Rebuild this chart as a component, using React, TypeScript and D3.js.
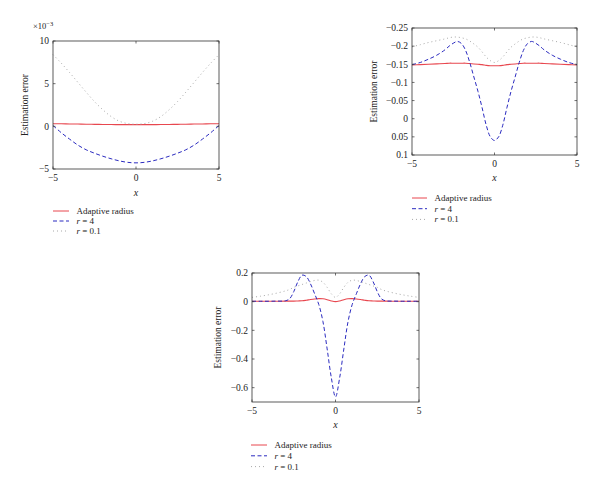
import React from "react";
import * as d3 from "d3";

// ---------- DATA ----------
const seriesNames = ["Adaptive radius", "r = 4", "r = 0.1"];

// Panel 1 (values ×10^-3)
const p1X = [-5, -4.5, -4, -3.5, -3, -2.5, -2, -1.5, -1, -0.5, 0, 0.5, 1, 1.5, 2, 2.5, 3, 3.5, 4, 4.5, 5];
const p1Adaptive = [0.3, 0.3, 0.28, 0.27, 0.25, 0.23, 0.22, 0.21, 0.2, 0.2, 0.2, 0.2, 0.2, 0.21, 0.22, 0.23, 0.25, 0.27, 0.28, 0.3, 0.3];
const p1R4 = [0.1, -0.75, -1.5, -2.2, -2.75, -3.15, -3.5, -3.8, -4.05, -4.22, -4.28, -4.22, -4.05, -3.8, -3.5, -3.15, -2.75, -2.2, -1.5, -0.75, 0.1];
const p1R01 = [8.4, 7.4, 6.3, 5.15, 4.0, 2.9, 1.95, 1.15, 0.6, 0.32, 0.25, 0.32, 0.6, 1.15, 1.95, 2.9, 4.0, 5.15, 6.3, 7.4, 8.4];
const p1YTicks = [-5, 0, 5, 10];

// Panel 2 (reversed y axis)
const p2X = [-5, -4.5, -4, -3.5, -3, -2.75, -2.5, -2.25, -2, -1.75, -1.5, -1.25, -1, -0.75, -0.5, -0.25, 0, 0.25, 0.5, 0.75, 1, 1.25, 1.5, 1.75, 2, 2.25, 2.5, 2.75, 3, 3.5, 4, 4.5, 5];
const p2Adaptive = [-0.148, -0.149, -0.15, -0.151, -0.152, -0.153, -0.153, -0.153, -0.153, -0.153, -0.152, -0.151, -0.15, -0.149, -0.147, -0.146, -0.146, -0.146, -0.147, -0.149, -0.15, -0.151, -0.152, -0.153, -0.153, -0.153, -0.153, -0.153, -0.152, -0.151, -0.15, -0.149, -0.148];
const p2R4 = [-0.149, -0.155, -0.164, -0.175, -0.19, -0.2, -0.208, -0.213, -0.207, -0.188, -0.155, -0.115, -0.075, -0.03, 0.018, 0.05, 0.06, 0.05, 0.018, -0.03, -0.075, -0.115, -0.155, -0.188, -0.207, -0.213, -0.208, -0.2, -0.19, -0.175, -0.164, -0.155, -0.149];
const p2R01 = [-0.198, -0.204, -0.21, -0.215, -0.22, -0.223, -0.225, -0.225, -0.223, -0.22, -0.214, -0.206, -0.197, -0.184, -0.17, -0.16, -0.155, -0.16, -0.17, -0.184, -0.197, -0.206, -0.214, -0.22, -0.223, -0.225, -0.225, -0.223, -0.22, -0.215, -0.21, -0.204, -0.198];
const p2YTicks = [-0.25, -0.2, -0.15, -0.1, -0.05, 0, 0.05, 0.1];

// Panel 3
const p3X = p2X;
const p3Adaptive = [0.003, 0.003, 0.003, 0.003, 0.004, 0.004, 0.004, 0.005, 0.006, 0.01, 0.015, 0.019, 0.021, 0.02, 0.014, 0.005, 0.0, 0.005, 0.014, 0.02, 0.021, 0.019, 0.015, 0.01, 0.006, 0.005, 0.004, 0.004, 0.004, 0.003, 0.003, 0.003, 0.003];
const p3R4 = [0.003, 0.003, 0.003, 0.004, 0.006, 0.02, 0.07, 0.14, 0.185, 0.175, 0.125, 0.055, -0.02, -0.14, -0.33, -0.53, -0.665, -0.53, -0.33, -0.14, -0.02, 0.055, 0.125, 0.175, 0.185, 0.14, 0.07, 0.02, 0.006, 0.004, 0.003, 0.003, 0.003];
const p3R01 = [0.03, 0.038, 0.048, 0.06, 0.075, 0.085, 0.1, 0.11, 0.12, 0.13, 0.14, 0.148, 0.15, 0.135, 0.1, 0.055, 0.03, 0.055, 0.1, 0.135, 0.15, 0.148, 0.14, 0.13, 0.12, 0.11, 0.1, 0.085, 0.075, 0.06, 0.048, 0.038, 0.03];
const p3YTicks = [-0.6, -0.4, -0.2, 0, 0.2];

const xTicks = [-5, 0, 5];

// ---------- STYLE ----------
const FONT = "'Liberation Serif', 'DejaVu Serif', serif";
const COLORS = ["#e8474f", "#2b2bc0", "#a8a8a8"];
const DASHES = ["", "4,2.5", "1,3"];

type PanelProps = {
  left: number; top: number; right: number; bottom: number;
  xs: number[]; series: number[][];
  yDomain: [number, number]; reversed?: boolean; yTicks: number[];
  fmt: (v: number) => string;
  yLabelX: number; xLabelY: number;
  legendX: number; legendY: number; legendLine: number; legendStep: number;
  multiplier?: boolean;
};

const minus = (s: string) => s.replace("-", "\u2212");

function Panel(p: PanelProps) {
  const x = d3.scaleLinear().domain([-5, 5]).range([p.left, p.right]);
  const y = d3.scaleLinear().domain(p.yDomain).range(p.reversed ? [p.top, p.bottom] : [p.bottom, p.top]);
  const line = d3.line<number>().x((_, i) => x(p.xs[i])).y((d) => y(d)).curve(d3.curveCatmullRom.alpha(0.5));
  const tl = 2.5;
  const cx = (p.left + p.right) / 2;
  const cy = (p.top + p.bottom) / 2;
  return (
    <g fontFamily={FONT} fill="#222">
      {p.series.map((s, i) => (
        <path key={i} d={line(s) || ""} fill="none" stroke={COLORS[i]} strokeWidth={i === 0 ? 1.1 : 1}
          strokeDasharray={DASHES[i] || undefined} />
      ))}
      <rect x={p.left} y={p.top} width={p.right - p.left} height={p.bottom - p.top} fill="none" stroke="#333" strokeWidth={0.8} />
      {xTicks.map((t) => (
        <g key={"x" + t}>
          <line x1={x(t)} x2={x(t)} y1={p.bottom} y2={p.bottom - tl} stroke="#333" strokeWidth={0.7} />
          <line x1={x(t)} x2={x(t)} y1={p.top} y2={p.top + tl} stroke="#333" strokeWidth={0.7} />
          <text x={x(t)} y={p.bottom + 12} fontSize={9.5} textAnchor="middle">{minus(String(t))}</text>
        </g>
      ))}
      {p.yTicks.map((t) => (
        <g key={"y" + t}>
          <line x1={p.left} x2={p.left + tl} y1={y(t)} y2={y(t)} stroke="#333" strokeWidth={0.7} />
          <line x1={p.right} x2={p.right - tl} y1={y(t)} y2={y(t)} stroke="#333" strokeWidth={0.7} />
          <text x={p.left - 4} y={y(t) + 3.3} fontSize={9.5} textAnchor="end">{minus(p.fmt(t))}</text>
        </g>
      ))}
      <text x={cx} y={p.xLabelY} fontSize={10} fontStyle="italic" textAnchor="middle">x</text>
      <text transform={`translate(${p.yLabelX},${cy}) rotate(-90)`} fontSize={9.5} textAnchor="middle">Estimation error</text>
      {p.multiplier && (
        <text x={p.left - 20} y={p.top - 12} fontSize={8.5}>
          {"\u00d710"}
          <tspan dy={-3.5} fontSize={6.5}>{"\u22123"}</tspan>
        </text>
      )}
      {seriesNames.map((name, i) => {
        const ly = p.legendY + i * p.legendStep;
        const parts = name.split(" = ");
        return (
          <g key={"l" + i}>
            <line x1={p.legendX} x2={p.legendX + p.legendLine} y1={ly} y2={ly} stroke={COLORS[i]} strokeWidth={1}
              strokeDasharray={DASHES[i] || undefined} />
            <text x={p.legendX + p.legendLine + 7.5} y={ly + 3} fontSize={9}>
              {parts.length > 1 ? (
                <>
                  <tspan fontStyle="italic">{parts[0]}</tspan>
                  <tspan>{" = " + parts[1]}</tspan>
                </>
              ) : name}
            </text>
          </g>
        );
      })}
    </g>
  );
}

export default function App() {
  return (
    <svg width={600} height={497} style={{ position: "absolute", left: 0, top: 0, background: "#fff" }}>
      <rect width={600} height={497} fill="#fff" />
      <Panel left={53} top={41} right={219} bottom={169} xs={p1X} series={[p1Adaptive, p1R4, p1R01]}
        yDomain={[-5, 10]} yTicks={p1YTicks} fmt={(v) => String(v)}
        yLabelX={28} xLabelY={196} legendX={53} legendY={211} legendLine={16} legendStep={10} multiplier />
      <Panel left={412} top={28} right={577} bottom={155} xs={p2X} series={[p2Adaptive, p2R4, p2R01]}
        yDomain={[-0.25, 0.1]} reversed yTicks={p2YTicks} fmt={(v) => String(+v.toFixed(2))}
        yLabelX={377} xLabelY={181} legendX={412} legendY={198} legendLine={15} legendStep={10.7} />
      <Panel left={252} top={273} right={419} bottom={402} xs={p3X} series={[p3Adaptive, p3R4, p3R01]}
        yDomain={[-0.7, 0.2]} yTicks={p3YTicks} fmt={(v) => String(+v.toFixed(1))}
        yLabelX={221} xLabelY={428} legendX={251} legendY={445} legendLine={16} legendStep={10.8} />
    </svg>
  );
}
